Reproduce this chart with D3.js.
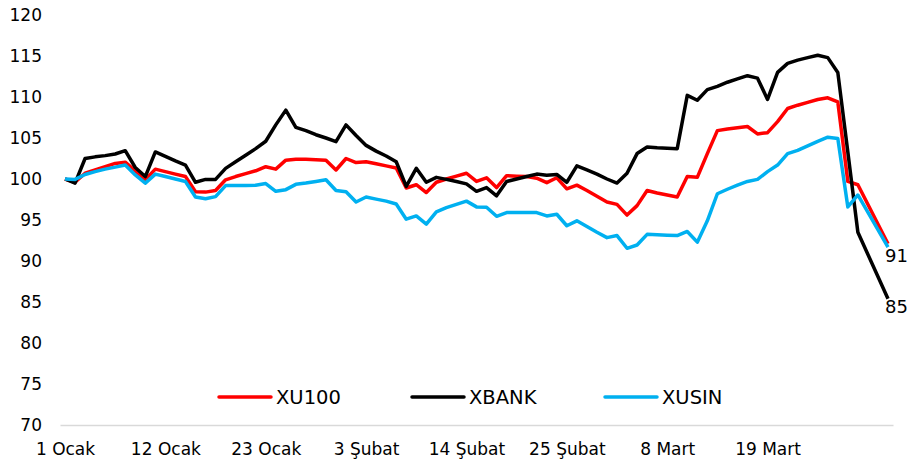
<!DOCTYPE html>
<html>
<head>
<meta charset="utf-8">
<script src="https://cdn.jsdelivr.net/npm/d3@7"></script>
<style>
  body { margin: 0; background: #fff; }
  svg { display: block; font-family: "DejaVu Sans", sans-serif; }
</style>
</head>
<body>
<script>
const width = 908;
const height = 466;

// x axis labels, one every 10 points
const dateLabels = ["1 Ocak", "12 Ocak", "23 Ocak", "3 Şubat", "14 Şubat", "25 Şubat", "8 Mart", "19 Mart"];
const yTicks = [70, 75, 80, 85, 90, 95, 100, 105, 110, 115, 120];

const xu100 = [
  100.0, 99.6, 100.7, 101.1, 101.5, 101.9, 102.05, 101.0, 99.9, 101.2,
  100.9, 100.6, 100.3, 98.45, 98.4, 98.6, 99.9, 100.3, 100.65, 101.0,
  101.5, 101.2, 102.3, 102.4, 102.4, 102.35, 102.3, 101.1, 102.5, 102.0,
  102.1, 101.85, 101.6, 101.35, 98.9, 99.3, 98.35, 99.6, 100.0, 100.35,
  100.7, 99.7, 100.15, 98.95, 100.4, 100.35, 100.3, 100.1, 99.55, 100.15,
  98.8, 99.25, 98.6, 97.9, 97.2, 96.9, 95.6, 96.75, 98.6, 98.3,
  98.05, 97.8, 100.3, 100.2, 103.1, 105.9, 106.1, 106.25, 106.4, 105.5,
  105.65, 107.0, 108.6, 109.0, 109.35, 109.7, 109.9, 109.4, 99.7, 99.3,
  null, null, 92.1
];
const xbank = [
  100.0, 99.5, 102.5, 102.7, 102.85, 103.05, 103.45, 101.4, 100.3, 103.3,
  102.75, 102.2, 101.7, 99.6, 99.95, 99.95, 101.3, 102.1, 102.9, 103.7,
  104.6, 106.6, 108.4, 106.3, 105.9, 105.4, 105.0, 104.55, 106.6, 105.3,
  104.1, 103.4, 102.8, 102.1, 99.1, 101.3, 99.6, 100.2, 99.95, 99.7,
  99.4, 98.5, 98.95, 97.95, 99.7, 100.0, 100.3, 100.6, 100.45, 100.55,
  99.6, 101.6, 101.1, 100.6, 100.0, 99.5, 100.7, 103.1, 103.9, 103.8,
  103.75, 103.7, 110.2, 109.6, 110.9, 111.3, 111.8, 112.2, 112.6, 112.3,
  109.7, 113.0, 114.1, 114.5, 114.8, 115.1, 114.8, 113.0, 103.3, 93.5,
  null, null, 85.4
];
const xusin = [
  100.0, 99.95, 100.55, 100.9, 101.2, 101.45, 101.7, 100.5, 99.5, 100.6,
  100.3, 100.0, 99.7, 97.8, 97.6, 97.85, 99.2, 99.2, 99.2, 99.25,
  99.45, 98.5, 98.7, 99.35, 99.5, 99.7, 99.9, 98.6, 98.45, 97.2,
  97.8, 97.55, 97.3, 96.95, 95.1, 95.5, 94.5, 96.0, 96.5, 96.9,
  97.3, 96.6, 96.55, 95.45, 95.9, 95.9, 95.9, 95.9, 95.5, 95.7,
  94.3, 94.9, 94.2, 93.5, 92.85, 93.1, 91.55, 91.95, 93.25, 93.2,
  93.15, 93.1, 93.6, 92.3, 94.9, 98.2, 98.75, 99.25, 99.7, 99.95,
  100.9, 101.7, 103.1, 103.5, 104.05, 104.6, 105.1, 104.95, 96.6, 98.05,
  null, null, 91.7
];

const seriesNames = ["XU100", "XBANK", "XUSIN"];
const seriesColors = ["#ff0000", "#000000", "#00b0f0"];
const seriesValues = [xu100, xbank, xusin];
// only one "91" shows in the picture (red and blue end together)
const endLabels = [null, "85", "91"];

const svg = d3.select("body").append("svg")
  .attr("width", width)
  .attr("height", height);

const idx = d3.range(xu100.length);

const x = d3.scalePoint()
  .domain(idx)
  .range([60, 893])
  .padding(0.5);

const y = d3.scaleLinear()
  .domain([70, 120])
  .range([425, 15]);

// y axis, labels only
const yAxis = svg.append("g")
  .attr("transform", "translate(44,0)")
  .call(d3.axisLeft(y).tickValues(yTicks).tickSize(0).tickPadding(2));
yAxis.select(".domain").remove();
yAxis.selectAll("text")
  .attr("font-size", 17)
  .attr("font-family", "DejaVu Sans")
  .attr("fill", "#000");

// x axis
const xAxis = svg.append("g")
  .attr("transform", "translate(0," + y(70) + ")")
  .call(d3.axisBottom(x)
    .tickValues(dateLabels.map((d, i) => i * 10))
    .tickFormat((d) => dateLabels[d / 10])
    .tickSize(0)
    .tickPadding(18));
xAxis.select(".domain")
  .attr("stroke", "#d9d9d9")
  .attr("stroke-width", 1.5);
xAxis.selectAll("text")
  .attr("font-size", 17)
  .attr("font-family", "DejaVu Sans")
  .attr("fill", "#000");

const line = d3.line()
  .x((d) => x(d.i))
  .y((d) => y(d.v));

// draw order red, black, blue
seriesValues.forEach((vals, s) => {
  const pts = vals
    .map((v, i) => ({ i: i, v: v }))
    .filter((d) => d.v != null);
  svg.append("path")
    .datum(pts)
    .attr("d", line)
    .attr("fill", "none")
    .attr("stroke", seriesColors[s])
    .attr("stroke-width", 3.5)
    .attr("stroke-linejoin", "round");
});

// end labels
seriesValues.forEach((vals, s) => {
  if (!endLabels[s]) return;
  const last = vals.length - 1;
  svg.append("text")
    .attr("x", x(last) - 3)
    .attr("y", y(vals[last]) + 8)
    .attr("dominant-baseline", "central")
    .attr("font-size", 18)
    .attr("fill", "#000")
    .text(endLabels[s]);
});

// legend
const legend = svg.append("g")
  .attr("transform", "translate(219,397)");
seriesNames.forEach((name, s) => {
  const g = legend.append("g").attr("transform", "translate(" + s * 193 + ",0)");
  g.append("line")
    .attr("x1", 0)
    .attr("x2", 52)
    .attr("stroke", seriesColors[s])
    .attr("stroke-width", 3.5)
    .attr("stroke-linecap", "round");
  g.append("text")
    .attr("x", 57)
    .attr("dominant-baseline", "central")
    .attr("font-size", 19.5)
    .attr("fill", "#000")
    .text(name);
});
</script>
</body>
</html>
